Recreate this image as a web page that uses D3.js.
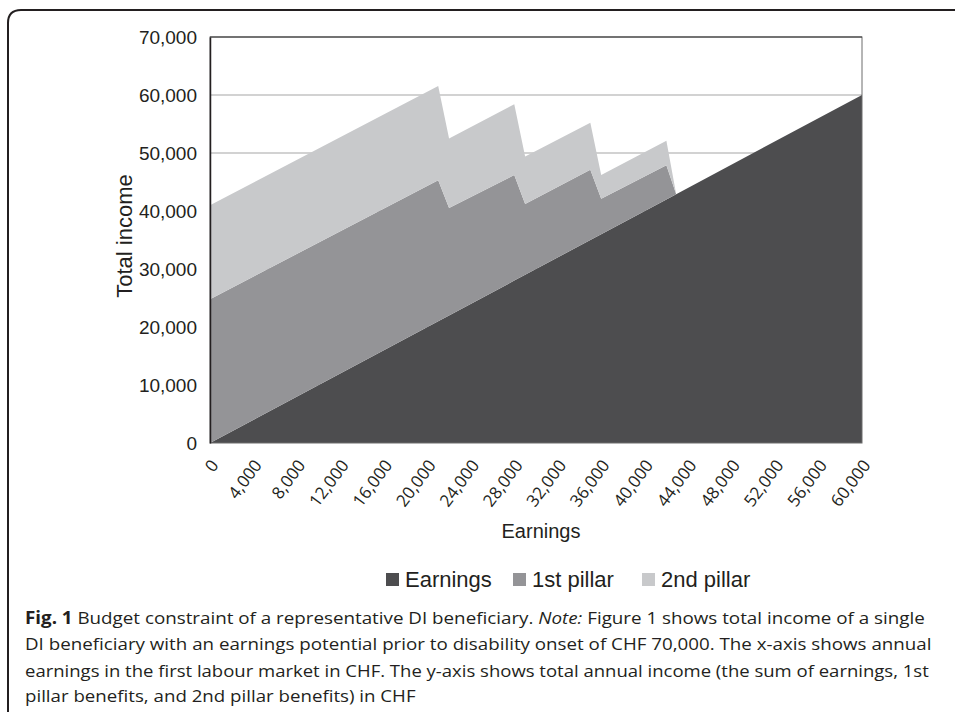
<!DOCTYPE html>
<html>
<head>
<meta charset="utf-8">
<script src="https://cdn.jsdelivr.net/npm/d3@7"></script>
<style>
  html, body { margin: 0; padding: 0; background: #fff; }
  svg { display: block; }
</style>
</head>
<body>
<svg id="chart" width="955" height="712"></svg>
<script>
// ---- Data ----
const earningsX    = [0, 21000, 22000, 28000, 29000, 35000, 36000, 42000, 42900, 60000];
const earnings     = [0, 21000, 22000, 28000, 29000, 35000, 36000, 42000, 42900, 60000];
const firstPillar  = [24800, 24300, 18500, 18200, 12200, 12100, 6100, 5900, 0, 0];
const secondPillar = [16200, 16250, 12000, 12200, 8200, 8100, 4100, 4200, 0, 0];
const seriesNames  = ["Earnings", "1st pillar", "2nd pillar"];
const seriesColors = ["#4d4d4f", "#949497", "#c8c9cb"];
const yTicks = [0, 10000, 20000, 30000, 40000, 50000, 60000, 70000];
const xTicks = [0, 4000, 8000, 12000, 16000, 20000, 24000, 28000, 32000, 36000, 40000, 44000, 48000, 52000, 56000, 60000];
const captionLines = [
  [{t: "Fig. 1", w: "bold"}, {t: " Budget constraint of a representative DI beneficiary. "}, {t: "Note:", s: "italic"}, {t: " Figure 1 shows total income of a single"}],
  [{t: "DI beneficiary with an earnings potential prior to disability onset of CHF 70,000. The x-axis shows annual"}],
  [{t: "earnings in the first labour market in CHF. The y-axis shows total annual income (the sum of earnings, 1st"}],
  [{t: "pillar benefits, and 2nd pillar benefits) in CHF"}]
];

// ---- Layout ----
const svg = d3.select("#chart");
const plot = {left: 210, top: 37, right: 862, bottom: 443};

const x = d3.scaleLinear().domain([0, 60000]).range([plot.left, plot.right]);
const y = d3.scaleLinear().domain([0, 70000]).range([plot.bottom, plot.top]);

// Outer frame (left + top with rounded corner)
svg.append("path")
  .attr("d", "M8,712 L8,23 Q8,10 21,10 L955,10")
  .attr("fill", "none").attr("stroke", "#231f20").attr("stroke-width", 2);

// Gridlines
svg.append("g").selectAll("line").data(yTicks.filter(d => d > 0 && d < 70000)).join("line")
  .attr("x1", plot.left).attr("x2", plot.right)
  .attr("y1", d => y(d)).attr("y2", d => y(d))
  .attr("stroke", "#a6a6a6").attr("stroke-width", 1.2);

// Stacked areas
const table = earningsX.map((xv, i) => ({
  x: xv, "Earnings": earnings[i], "1st pillar": firstPillar[i], "2nd pillar": secondPillar[i]
}));
const stack = d3.stack().keys(seriesNames)(table);
const area = d3.area().x(d => x(d.data.x)).y0(d => y(d[0])).y1(d => y(d[1]));
svg.append("g").selectAll("path").data(stack).join("path")
  .attr("d", area)
  .attr("fill", (d, i) => seriesColors[i]);

// Plot border
svg.append("rect")
  .attr("x", plot.left).attr("y", plot.top)
  .attr("width", plot.right - plot.left).attr("height", plot.bottom - plot.top)
  .attr("fill", "none").attr("stroke", "#6d6d6d").attr("stroke-width", 1);
svg.append("line").attr("x1", plot.left).attr("x2", plot.right)
  .attr("y1", plot.top).attr("y2", plot.top).attr("stroke", "#333").attr("stroke-width", 1.2);

// Y axis
const yAxis = svg.append("g").attr("transform", `translate(${plot.left},0)`)
  .call(d3.axisLeft(y).tickValues(yTicks).tickFormat(d3.format(",")).tickSize(0).tickPadding(13));
yAxis.select(".domain").attr("stroke", "#231f20").attr("stroke-width", 1.5);
yAxis.selectAll("text")
  .attr("font-family", "'Liberation Sans', Arial, sans-serif")
  .attr("font-size", 19).attr("fill", "#231f20");

// X axis
const xAxis = svg.append("g").attr("transform", `translate(0,${plot.bottom})`)
  .call(d3.axisBottom(x).tickValues(xTicks).tickFormat(d3.format(",")).tickSize(0));
xAxis.select(".domain").remove();
xAxis.selectAll("text")
  .attr("font-family", "'Open Sans', sans-serif")
  .attr("font-size", 17).attr("fill", "#231f20")
  .attr("text-anchor", "end")
  .attr("dy", "0.35em")
  .attr("transform", "translate(4,19) rotate(-53)")
  .attr("y", 0).attr("x", 0);

// Axis titles
svg.append("text").attr("x", 541).attr("y", 538)
  .attr("text-anchor", "middle")
  .attr("font-family", "'Liberation Sans', Arial, sans-serif")
  .attr("font-size", 20).attr("fill", "#231f20")
  .text("Earnings");
svg.append("text").attr("transform", "translate(132,236) rotate(-90)")
  .attr("text-anchor", "middle")
  .attr("font-family", "'Liberation Sans', Arial, sans-serif")
  .attr("font-size", 22).attr("fill", "#231f20")
  .text("Total income");

// Legend
const legendX = [386, 513, 642];
const leg = svg.append("g").selectAll("g").data(seriesNames).join("g")
  .attr("transform", (d, i) => `translate(${legendX[i]},573)`);
leg.append("rect").attr("width", 13).attr("height", 13).attr("fill", (d, i) => seriesColors[i]);
leg.append("text").attr("x", 19).attr("y", 13.5)
  .attr("font-family", "'Liberation Sans', Arial, sans-serif")
  .attr("font-size", 22).attr("fill", "#231f20")
  .text(d => d);

// Caption (horizontal condensing to mimic the condensed caption face)
const capBase = [624, 650, 677, 702];
const capRight = [925, 932, 929, null];
let scales = [];
captionLines.forEach((parts, i) => {
  const t = svg.append("text")
    .attr("x", 0).attr("y", 0)
    .attr("font-family", "'Open Sans', sans-serif")
    .attr("font-size", 17).attr("fill", "#231f20")
    .style("white-space", "pre");
  parts.forEach(p => {
    t.append("tspan").text(p.t)
      .attr("font-weight", p.w || "normal")
      .attr("font-style", p.s || "normal");
  });
  let sx;
  if (capRight[i] !== null) {
    sx = (capRight[i] - 25) / t.node().getComputedTextLength();
    scales.push(sx);
  } else {
    sx = d3.mean(scales);
  }
  t.attr("transform", `translate(25,${capBase[i]}) scale(${sx},1)`);
});
</script>
</body>
</html>
